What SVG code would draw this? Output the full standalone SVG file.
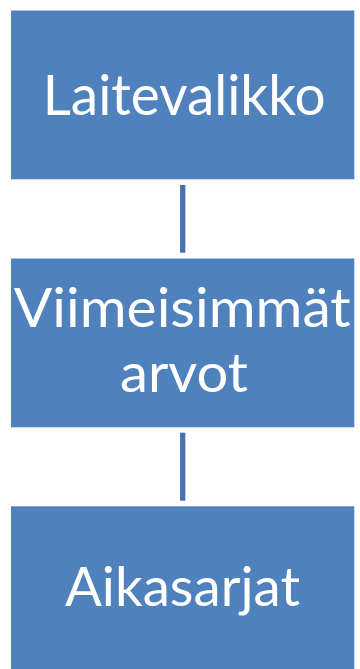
<svg xmlns="http://www.w3.org/2000/svg" width="360" height="669" viewBox="0 0 360 669">
  <style>
    .box { fill: #4F81BD; }
    .label { fill: #FFFFFF; font-family: Lato, "Open Sans", "Liberation Sans", sans-serif; text-anchor: middle; }
    .link { stroke: #4571AC; stroke-width: 5.3; fill: none; }
  </style>
  <rect width="360" height="669" fill="#FFFFFF"/>
  <g id="connectors">
    <line class="link" x1="182.7" y1="185" x2="182.7" y2="252.7"/>
    <line class="link" x1="182.7" y1="432.7" x2="182.7" y2="500.7"/>
  </g>
  <g id="laitevalikko">
    <rect class="box" x="11" y="10.5" width="343.3" height="168.8"/>
    <text class="label" x="184.2" y="115.3" font-size="57" textLength="283" lengthAdjust="spacingAndGlyphs">Laitevalikko</text>
  </g>
  <g id="viimeisimmat-arvot">
    <rect class="box" x="11" y="258.5" width="343.3" height="168.8"/>
    <text class="label" x="182.3" y="326.5" font-size="54" textLength="337" lengthAdjust="spacingAndGlyphs">Viimeisimmät</text>
    <text class="label" x="184" y="391.7" font-size="54" textLength="128" lengthAdjust="spacingAndGlyphs">arvot</text>
  </g>
  <g id="aikasarjat">
    <rect class="box" x="11" y="506.3" width="343.3" height="170"/>
    <text class="label" x="182.5" y="606.2" font-size="54" textLength="235" lengthAdjust="spacingAndGlyphs">Aikasarjat</text>
  </g>
</svg>
